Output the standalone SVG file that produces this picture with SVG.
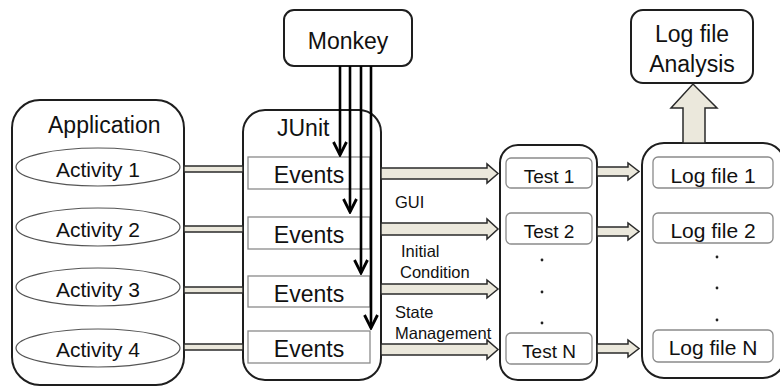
<svg xmlns="http://www.w3.org/2000/svg" width="780" height="387" viewBox="0 0 780 387">
  <style>
    .box { fill: #fff; stroke: #1e1e1e; stroke-width: 2; }
    .inner { fill: #fff; stroke: #8a8a8a; stroke-width: 1.3; }
    .oval { fill: #fff; stroke: #555; stroke-width: 1.2; }
    .t { font-family: "Liberation Sans", Arial, sans-serif; fill: #111; }
    .big { font-size: 23px; }
    .mid { font-size: 21px; }
    .sm { font-size: 19px; }
    .lbl { font-size: 16.5px; }
    .pipe { fill: #ebe8dc; stroke: #2a2a2a; stroke-width: 1.5; }
    .wire { fill: none; stroke: #000; stroke-width: 2.6; }
    .dot { fill: #222; }
  </style>
  <defs>
    <!-- open V arrowhead, drawn along +x so orient="auto" follows the line -->
    <marker id="vhead" markerWidth="17" markerHeight="16" viewBox="0 0 17 16" refX="15" refY="8" orient="auto" markerUnits="userSpaceOnUse">
      <path d="M2,1.5 L15,8 L2,14.5" fill="none" stroke="#000" stroke-width="2.8"/>
    </marker>
  </defs>
  <rect width="780" height="387" fill="#fff"/>

  <!-- Monkey -->
  <g id="monkey">
    <rect class="box" x="284" y="10" width="128" height="56" rx="10"/>
    <text class="t big" x="348" y="49" text-anchor="middle">Monkey</text>
  </g>

  <!-- Log file analysis -->
  <g id="analysis">
    <rect class="box" x="631" y="10" width="122" height="73" rx="12"/>
    <text class="t big" x="692" y="42" text-anchor="middle">Log file</text>
    <text class="t big" x="692" y="72" text-anchor="middle">Analysis</text>
  </g>

  <!-- Application -->
  <g id="application">
    <rect class="box" x="12" y="100" width="172" height="285" rx="28"/>
    <text class="t big" x="48" y="133">Application</text>
    <ellipse class="oval" cx="98" cy="167" rx="82" ry="19"/>
    <text class="t mid" x="98" y="177" text-anchor="middle">Activity 1</text>
    <ellipse class="oval" cx="98" cy="227" rx="82" ry="19"/>
    <text class="t mid" x="98" y="237" text-anchor="middle">Activity 2</text>
    <ellipse class="oval" cx="98" cy="287" rx="82" ry="19"/>
    <text class="t mid" x="98" y="297" text-anchor="middle">Activity 3</text>
    <ellipse class="oval" cx="98" cy="348" rx="82" ry="19"/>
    <text class="t mid" x="98" y="357" text-anchor="middle">Activity 4</text>
  </g>

  <!-- JUnit -->
  <g id="junit">
    <rect class="box" x="243" y="110" width="138" height="270" rx="22"/>
    <text class="t big" x="277" y="136">JUnit</text>
    <rect class="inner" x="248" y="157" width="122" height="32"/>
    <text class="t big" x="309" y="183" text-anchor="middle">Events</text>
    <rect class="inner" x="248" y="217" width="122" height="32"/>
    <text class="t big" x="309" y="243" text-anchor="middle">Events</text>
    <rect class="inner" x="248" y="276" width="122" height="31"/>
    <text class="t big" x="309" y="302" text-anchor="middle">Events</text>
    <rect class="inner" x="248" y="331" width="122" height="32"/>
    <text class="t big" x="309" y="357" text-anchor="middle">Events</text>
  </g>

  <!-- Tests -->
  <g id="tests">
    <rect class="box" x="500" y="145" width="97" height="235" rx="18"/>
    <rect class="inner" x="506" y="158" width="86" height="30" rx="5"/>
    <text class="t sm" x="549" y="183" text-anchor="middle">Test 1</text>
    <rect class="inner" x="506" y="213" width="86" height="31" rx="5"/>
    <text class="t sm" x="549" y="238" text-anchor="middle">Test 2</text>
    <circle class="dot" cx="542" cy="260" r="1.4"/>
    <circle class="dot" cx="542" cy="292" r="1.4"/>
    <circle class="dot" cx="542" cy="323" r="1.4"/>
    <rect class="inner" x="506" y="333" width="86" height="31" rx="5"/>
    <text class="t sm" x="549" y="358" text-anchor="middle">Test N</text>
  </g>

  <!-- Log files -->
  <g id="logs">
    <rect class="box" x="642" y="143" width="143" height="235" rx="22"/>
    <rect class="inner" x="653" y="157" width="120" height="31" rx="5"/>
    <text class="t mid" x="713" y="183" text-anchor="middle">Log file 1</text>
    <rect class="inner" x="653" y="213" width="120" height="30" rx="5"/>
    <text class="t mid" x="713" y="238" text-anchor="middle">Log file 2</text>
    <circle class="dot" cx="717" cy="257" r="1.4"/>
    <circle class="dot" cx="717" cy="288" r="1.4"/>
    <circle class="dot" cx="717" cy="320" r="1.4"/>
    <rect class="inner" x="653" y="330" width="120" height="32" rx="5"/>
    <text class="t mid" x="713" y="355" text-anchor="middle">Log file N</text>
  </g>

  <!-- Connectors -->
  <g id="connectors">
    <!-- activity to events bars -->
    <rect class="pipe" x="184" y="166" width="59" height="6"/>
    <rect class="pipe" x="184" y="226" width="59" height="6"/>
    <rect class="pipe" x="184" y="287" width="59" height="6"/>
    <rect class="pipe" x="184" y="344" width="59" height="6"/>

    <!-- events to tests block arrows -->
    <path class="pipe" d="M381,168 H487 V164 L498,173.5 L487,183 V179 H381 Z"/>
    <path class="pipe" d="M381,223 H487 V219 L498,229 L487,239 V235 H381 Z"/>
    <path class="pipe" d="M381,284 H487 V280 L498,289 L487,298 V294 H381 Z"/>
    <path class="pipe" d="M381,344 H487 V340 L498,349.5 L487,359 V355 H381 Z"/>

    <!-- tests to logs block arrows -->
    <path class="pipe" d="M597,167 H628 V163 L639,171.5 L628,180 V176 H597 Z"/>
    <path class="pipe" d="M597,227 H628 V223 L639,231.5 L628,240 V236 H597 Z"/>
    <path class="pipe" d="M597,344 H628 V340 L639,348.5 L628,357 V353 H597 Z"/>

    <!-- logs to analysis -->
    <path class="pipe" d="M683,143 V108 H671 L693,84 L717,108 H705 V143 Z"/>

    <!-- monkey event feeds -->
    <line class="wire" x1="340" y1="66" x2="340" y2="155" marker-end="url(#vhead)"/>
    <line class="wire" x1="350" y1="66" x2="350" y2="212" marker-end="url(#vhead)"/>
    <line class="wire" x1="361" y1="66" x2="361" y2="273" marker-end="url(#vhead)"/>
    <line class="wire" x1="371" y1="66" x2="371" y2="328" marker-end="url(#vhead)"/>

    <!-- labels -->
    <text class="t lbl" x="395" y="208">GUI</text>
    <text class="t lbl" x="401" y="257">Initial</text>
    <text class="t lbl" x="400" y="278">Condition</text>
    <text class="t lbl" x="395" y="318">State</text>
    <text class="t lbl" x="395" y="339">Management</text>
  </g>
</svg>
